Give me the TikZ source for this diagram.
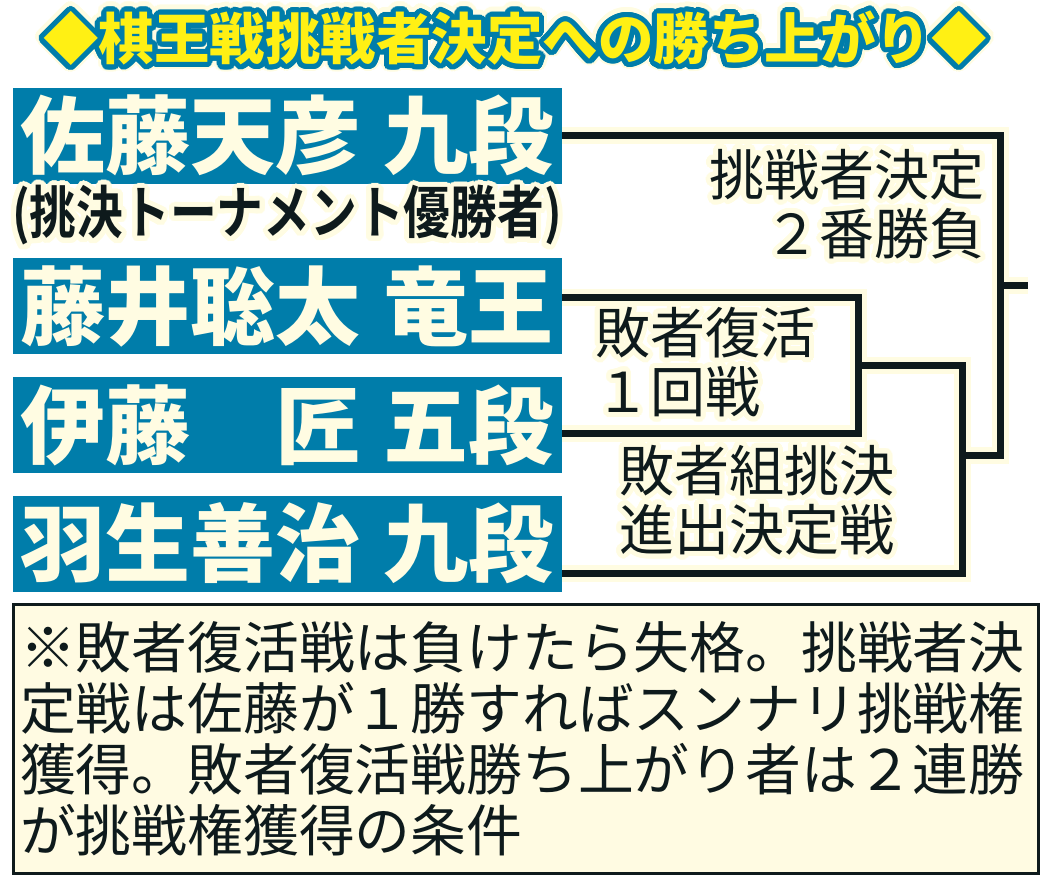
\documentclass[tikz,border=0pt]{standalone}
\usepackage{fontspec}
\usepackage{contour}
\usetikzlibrary{calc}
\setmainfont{Noto Sans CJK JP}
\IfFontExistsTF{Noto Sans CJK JP Black}
	{\newfontfamily\heavyfont{Noto Sans CJK JP Black}}
	{\newfontfamily\heavyfont{Noto Sans CJK JP Bold}}
\newfontfamily\narrowbold{Noto Sans CJK JP Bold}[FakeStretch=0.82]
\definecolor{kiblue}{RGB}{0,125,170}
\definecolor{kicream}{RGB}{255,252,226}
\definecolor{kinote}{RGB}{255,251,226}
\definecolor{kiyellow}{RGB}{255,240,20}
\definecolor{kiink}{RGB}{14,26,28}
\contournumber{32}
\contourlength{5pt}
\def\creamhalo#1{\contour{kicream}{#1}}

\tikzset{
	namebox/.style={fill=kiblue, text=kicream, inner xsep=7pt, inner ysep=0pt, minimum height=96pt, text width=535pt, align=left, font=\heavyfont\fontsize{85}{85}\selectfont},
	matchlabel/.style={text=kiink, inner sep=0pt, font=\fontsize{55}{59}\selectfont},
	brackethalo/.style={draw=kicream, line width=17pt},
	bracketline/.style={draw=kiink, line width=7pt},
}

\begin{document}
\begin{tikzpicture}[x=1pt, y=-1pt]
			%%%%% START %%%%%
			\useasboundingbox (0, 0) rectangle (1041, 875);
			
			\node[font=\heavyfont\fontsize{55.5}{55.5}\selectfont, text=kicream, inner sep=0pt] (title-rim) at (515, 41) {\contourlength{8.5pt}\contour{kicream}{◆棋王戦挑戦者決定への勝ち上がり◆}};
			\node[font=\heavyfont\fontsize{55.5}{55.5}\selectfont, text=kiyellow, inner sep=0pt] (title) at (515, 41) {\contourlength{5pt}\contour{kiblue}{◆棋王戦挑戦者決定への勝ち上がり◆}};
			
			\node[namebox] (sato) at (287.5, 135.5) {佐藤天彦\hspace{0.28em}九段};
			\node[font=\narrowbold\fontsize{57}{57}\selectfont, text=kiink, inner sep=0pt] (sato-note) at (287, 218) {\creamhalo{(挑決トーナメント優勝者)}};
			\node[namebox] (fujii) at (287.5, 306) {藤井聡太\hspace{0.28em}竜王};
			\node[namebox] (ito) at (287.5, 425) {伊藤\hspace{1em}匠\hspace{0.28em}五段};
			\node[namebox] (habu) at (287.5, 543.5) {羽生善治\hspace{0.28em}九段};
			
			\coordinate (fukkatsu) at (858, 365);
			\coordinate (shinshutsu) at (962, 455);
			\coordinate (kettei) at (1000, 285);
			\coordinate (kettei-out) at (1028, 285);
			
			\foreach \sty in {brackethalo, bracketline}{
				\draw[\sty] ([yshift=9pt]fujii.east) -| (fukkatsu) |- ([yshift=-8pt]ito.east);
				\draw[\sty] (fukkatsu) -| (shinshutsu) |- ([yshift=-29.5pt]habu.east);
				\draw[\sty] (sato.east) -| (kettei) |- (shinshutsu);
				\draw[\sty] (kettei) -- (kettei-out);
			}
			
			\node[matchlabel, anchor=east, align=right] (kettei-label) at (985, 206.5) {\creamhalo{挑戦者決定}\\\creamhalo{２番勝負}};
			\node[matchlabel, anchor=west, align=left] (fukkatsu-label) at (595, 364.5) {\creamhalo{敗者復活}\\\creamhalo{１回戦}};
			\node[matchlabel, anchor=west, align=left] (shinshutsu-label) at (619, 502.5) {\creamhalo{敗者組挑決}\\\creamhalo{進出決定戦}};
			
			\node[draw=kiink, fill=kinote, line width=3pt, minimum width=1025pt, minimum height=269pt, text width=1011pt, inner xsep=7pt, align=left, text=kiink, font=\fontsize{55.8}{61}\selectfont] (note) at (525.5, 738.5) {※敗者復活戦は負けたら失格。挑戦者決\\定戦は佐藤が１勝すればスンナリ挑戦権\\獲得。敗者復活戦勝ち上がり者は２連勝\\が挑戦権獲得の条件};
			
			%%%%% END %%%%%
\end{tikzpicture}
\end{document}
